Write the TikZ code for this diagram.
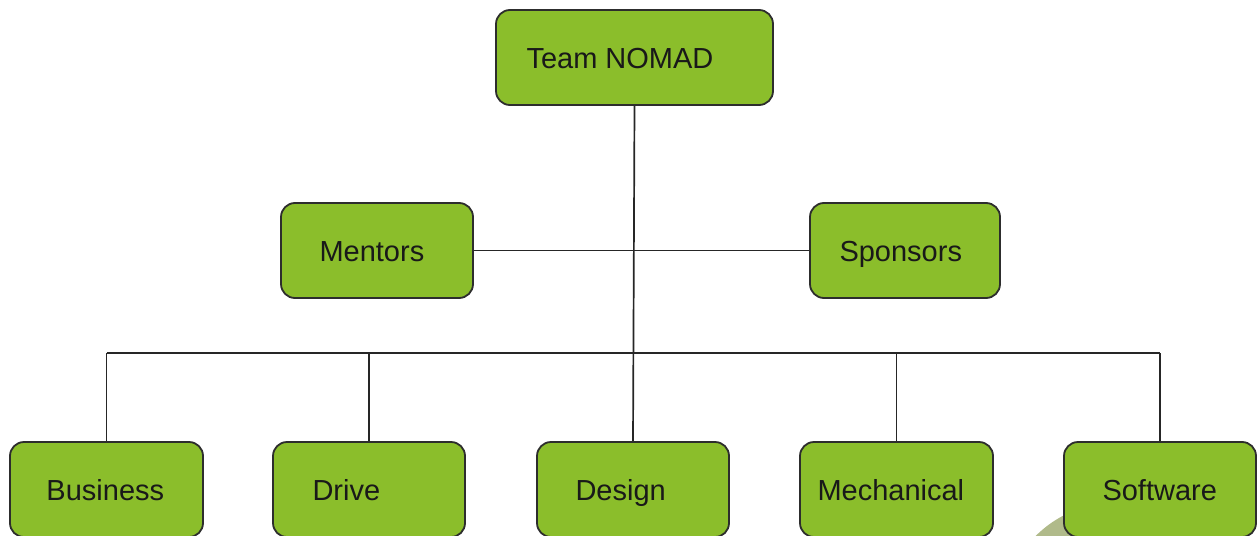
\documentclass[tikz,border=0pt]{standalone}
\usepackage{fontspec}
\setmainfont{Liberation Sans}
\usepackage{tikz}
\usetikzlibrary{calc}
\definecolor{boxgreen}{RGB}{139,190,43}
\definecolor{boxline}{RGB}{45,45,45}
\definecolor{blob}{RGB}{176,186,138}
\tikzset{
  box/.style={draw=boxline, line width=0.9pt, fill=boxgreen, rounded corners=7pt, minimum height=47.5pt, inner sep=0pt},
  lbl/.style={anchor=base west, inner sep=0pt, text=black!90, font=\fontsize{14.5}{17}\selectfont},
  wire/.style={draw=black!85, line width=0.85pt}
}
% name, x, y, width, text pad, text
\newcommand{\unitbox}[6]{ \node[box, minimum width=#4] (#1) at (#2,#3) {}; \node[lbl] (#1-t) at ([xshift=#5, yshift=-5.4pt]#1.west) {#6};}

\begin{document}
\begin{tikzpicture}[x=0.5pt, y=-0.5pt]
\useasboundingbox (0,0) rectangle (1257,535);
\clip (0,0) rectangle (1257,535);
\fill[blob] (1115,615) circle (56pt);
% top
\unitbox{team}{634.5}{57.5}{138.5pt}{15.5pt}{Team NOMAD}
% row1
\unitbox{mentors}{377}{250.5}{96pt}{19.5pt}{Mentors}
\unitbox{sponsors}{905}{250.5}{95pt}{15pt}{Sponsors}
% row2
\unitbox{business}{106.5}{489.5}{96.5pt}{18.5pt}{Business}
\unitbox{drive}{369}{489.5}{96pt}{20pt}{Drive}
\unitbox{design}{633}{489.5}{96pt}{19.5pt}{Design}
\unitbox{mechanical}{896.5}{489.5}{96.5pt}{9pt}{Mechanical}
\unitbox{software}{1160}{489.5}{96pt}{19.5pt}{Software}

\coordinate (bus) at (0,353);
\draw[wire] (team.south) -- (design.north);
\draw[wire] (mentors.east) -- (sponsors.west);
\draw[wire] (business.north |- bus) -- (software.north |- bus);
\foreach \n in {business,drive,mechanical,software}
  \draw[wire] (\n.north) -- (\n.north |- bus);
\end{tikzpicture}
\end{document}
